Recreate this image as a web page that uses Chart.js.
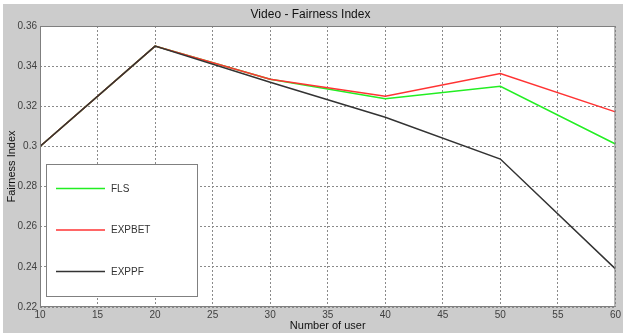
<!DOCTYPE html>
<html>
<head>
<meta charset="utf-8">
<script src="https://cdn.jsdelivr.net/npm/chart.js@4.4.1/dist/chart.umd.min.js"></script>
<style>
    html, body { margin: 0; padding: 0; background: #ffffff; }
    #wrap { width: 623px; height: 333px; }
</style>
</head>
<body>
<div id="wrap"><canvas id="chart" width="623" height="333"></canvas></div>
<script>
// Video - Fairness Index data
const users = [10, 20, 30, 40, 50, 60];
const flsValues = [0.300, 0.350, 0.3335, 0.3238, 0.330, 0.3012];
const expbetValues = [0.300, 0.350, 0.3335, 0.325, 0.3363, 0.3172];
const exppfValues = [0.300, 0.350, 0.332, 0.3145, 0.2937, 0.239];
const seriesNames = ['FLS', 'EXPBET', 'EXPPF'];
const seriesColors = ['#22ee22', '#ff3333', '#333333'];

const FONT = '"Liberation Sans", Arial, sans-serif';

function toPoints(values) {
    return users.map((u, i) => ({ x: u, y: values[i] }));
}

// Grey figure background, white plot area
const backgroundPlugin = {
    id: 'figureBackground',
    beforeDraw(chart) {
        const { ctx, chartArea } = chart;
        ctx.save();
        ctx.fillStyle = '#ffffff';
        ctx.fillRect(0, 0, chart.width, chart.height);
        ctx.fillStyle = '#cccccc';
        ctx.fillRect(3, 4, chart.width - 3, chart.height - 4);
        ctx.fillStyle = '#ffffff';
        ctx.fillRect(chartArea.left, chartArea.top, chartArea.width, chartArea.height);
        ctx.restore();
    }
};

// Axes box and legend box inside the plot
const frameLegendPlugin = {
    id: 'frameLegend',
    afterDraw(chart) {
        const { ctx, chartArea } = chart;
        ctx.save();
        ctx.strokeStyle = '#7f7f7f';
        ctx.lineWidth = 1;
        ctx.strokeRect(chartArea.left + 0.5, chartArea.top + 0.5, chartArea.width - 1, chartArea.height - 1);

        // legend
        const bx = chartArea.left + 6, by = chartArea.top + 138;
        ctx.fillStyle = '#ffffff';
        ctx.fillRect(bx, by, 152, 132);
        ctx.strokeStyle = '#808080';
        ctx.strokeRect(bx + 0.5, by + 0.5, 151, 132);
        ctx.font = '10px ' + FONT;
        ctx.textBaseline = 'middle';
        chart.data.datasets.forEach((ds, i) => {
            const y = by + 24.5 + i * 41.5;
            ctx.strokeStyle = ds.borderColor;
            ctx.lineWidth = 1.5;
            ctx.beginPath();
            ctx.moveTo(bx + 10, y);
            ctx.lineTo(bx + 59, y);
            ctx.stroke();
            ctx.fillStyle = '#333333';
            ctx.fillText(ds.label, bx + 65, y + 0.5);
        });
        ctx.restore();
    }
};

const ctx = document.getElementById('chart');

new Chart(ctx, {
    type: 'line',
    data: {
        datasets: [
            { label: seriesNames[0], data: toPoints(flsValues), borderColor: seriesColors[0], order: 3 },
            { label: seriesNames[1], data: toPoints(expbetValues), borderColor: seriesColors[1], order: 2 },
            { label: seriesNames[2], data: toPoints(exppfValues), borderColor: seriesColors[2], order: 1 }
        ]
    },
    options: {
        responsive: false,
        animation: false,
        devicePixelRatio: 1,
        layout: { padding: { top: 0, right: 2, left: 0, bottom: 0 } },
        elements: {
            line: { borderWidth: 1.5, tension: 0, fill: false },
            point: { radius: 0 }
        },
        plugins: {
            legend: { display: false },
            tooltip: { enabled: false },
            title: {
                display: true,
                text: 'Video - Fairness Index',
                color: '#111111',
                font: { family: FONT, size: 12, weight: 'normal' },
                padding: { top: 7, bottom: 4.6 }
            }
        },
        scales: {
            x: {
                type: 'linear',
                min: 10,
                max: 60,
                ticks: {
                    stepSize: 5,
                    color: '#404040',
                    font: { family: FONT, size: 10 },
                    padding: 2,
                    maxRotation: 0
                },
                grid: { color: '#8a8a8a', drawTicks: false, lineWidth: 1 },
                border: { display: false, dash: [2, 2] },
                title: {
                    display: true,
                    text: 'Number of user',
                    color: '#111111',
                    font: { family: FONT, size: 11 },
                    padding: { top: 0, bottom: 0 }
                },
                afterFit(scale) { scale.height = 26; }
            },
            y: {
                min: 0.22,
                max: 0.36,
                ticks: {
                    stepSize: 0.02,
                    color: '#404040',
                    font: { family: FONT, size: 10 },
                    padding: 3,
                    callback: v => String(+v.toFixed(2))
                },
                grid: { color: '#8a8a8a', drawTicks: false, lineWidth: 1 },
                border: { display: false, dash: [2, 2] },
                title: {
                    display: true,
                    text: 'Fairness Index',
                    color: '#111111',
                    font: { family: FONT, size: 11 },
                    padding: { top: 5, bottom: 0 }
                },
                afterFit(scale) { scale.width = 40; }
            }
        }
    },
    plugins: [backgroundPlugin, frameLegendPlugin]
});
</script>
</body>
</html>
